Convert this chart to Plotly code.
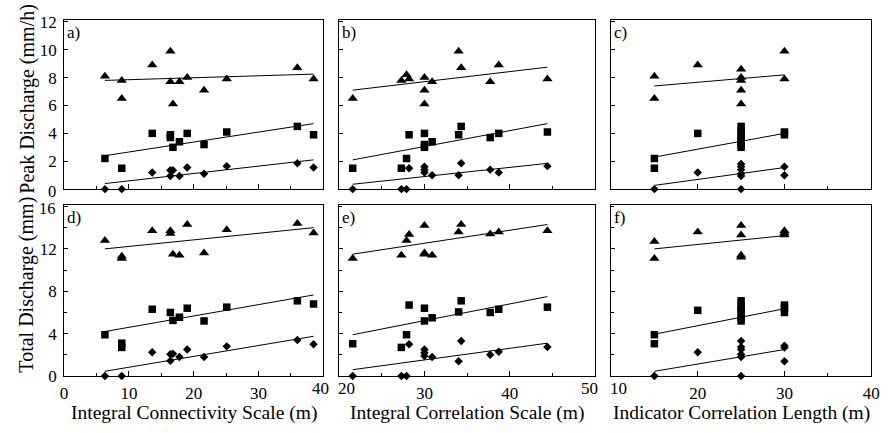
import plotly.graph_objects as go

# ---------------- data ----------------
# Panel a / d : Integral Connectivity Scale (m)
a_tri_x = [6.3, 8.9, 8.9, 13.6, 16.4, 16.4, 16.8, 17.8, 19.0, 21.6, 25.1, 36.0, 38.5]
a_tri_y = [8.1, 7.8, 6.5, 8.9, 9.9, 7.7, 6.1, 7.7, 8.0, 7.1, 7.9, 8.7, 7.9]
a_sq_x = [6.3, 8.9, 13.6, 16.4, 16.4, 16.8, 17.8, 19.0, 21.6, 25.1, 36.0, 38.5]
a_sq_y = [2.2, 1.5, 4.0, 3.9, 3.7, 3.0, 3.4, 4.0, 3.2, 4.1, 4.5, 3.9]
a_di_x = [6.3, 8.9, 13.6, 16.4, 16.4, 16.8, 17.8, 19.0, 21.6, 25.1, 36.0, 38.5]
a_di_y = [0.0, 0.0, 1.2, 1.35, 0.95, 1.35, 0.95, 1.55, 1.1, 1.65, 1.85, 1.55]

d_tri_x = [6.3, 8.9, 8.9, 13.6, 16.4, 16.4, 16.8, 17.8, 19.0, 21.6, 25.1, 36.0, 38.5]
d_tri_y = [12.8, 11.3, 11.1, 13.7, 13.7, 13.45, 11.5, 11.4, 14.3, 11.6, 13.8, 14.4, 13.5]
d_sq_x = [6.3, 8.9, 8.9, 13.6, 16.4, 16.8, 17.8, 19.0, 21.6, 25.1, 36.0, 38.5]
d_sq_y = [3.9, 3.1, 2.7, 6.3, 6.0, 5.25, 5.55, 6.4, 5.2, 6.5, 7.1, 6.8]
d_di_x = [6.3, 8.9, 13.6, 16.4, 16.4, 16.8, 17.8, 19.0, 21.6, 25.1, 36.0, 38.5]
d_di_y = [0.0, 0.0, 2.25, 2.05, 1.45, 2.1, 1.8, 2.5, 1.8, 2.8, 3.4, 3.0]

# Panel b / e : Integral Correlation Scale (m)
b_tri_x = [21.6, 27.3, 27.9, 28.2, 30.0, 30.0, 30.0, 30.9, 34.0, 34.3, 37.7, 38.7, 44.4]
b_tri_y = [6.5, 7.8, 8.2, 7.9, 8.0, 7.1, 6.1, 7.7, 9.9, 8.7, 7.7, 8.9, 7.9]
b_sq_x = [21.6, 27.3, 27.9, 28.2, 30.0, 30.0, 30.0, 30.9, 34.0, 34.3, 37.7, 38.7, 44.4]
b_sq_y = [1.5, 1.5, 2.2, 3.9, 4.0, 3.2, 3.0, 3.4, 3.9, 4.5, 3.7, 4.0, 4.1]
b_di_x = [21.6, 27.3, 27.9, 28.2, 30.0, 30.0, 30.0, 30.9, 34.0, 34.3, 37.7, 38.7, 44.4]
b_di_y = [0.0, 0.0, 0.0, 1.5, 1.6, 1.4, 1.2, 1.0, 1.0, 1.85, 1.4, 1.2, 1.65]

e_tri_x = [21.6, 27.3, 27.9, 28.2, 30.0, 30.0, 30.0, 30.9, 34.0, 34.3, 37.7, 38.7, 44.4]
e_tri_y = [11.1, 11.4, 12.8, 13.35, 14.2, 11.5, 11.6, 11.4, 13.6, 14.3, 13.4, 13.6, 13.7]
e_sq_x = [21.6, 27.3, 27.9, 28.2, 30.0, 30.0, 30.9, 34.0, 34.3, 37.7, 38.7, 44.4]
e_sq_y = [3.05, 2.7, 3.9, 6.7, 6.4, 5.2, 5.5, 6.05, 7.1, 6.0, 6.3, 6.5]
e_di_x = [21.6, 27.3, 27.9, 28.2, 30.0, 30.0, 30.0, 30.9, 34.0, 34.3, 37.7, 38.7, 44.4]
e_di_y = [0.0, 0.0, 0.0, 3.0, 2.5, 2.2, 1.9, 1.8, 1.4, 3.3, 2.0, 2.3, 2.75]

# Panel c / f : Indicator Correlation Length (m)
c_tri_x = [15, 15, 20, 25, 25, 25, 25, 25, 30, 30]
c_tri_y = [8.1, 6.5, 8.9, 8.6, 8.0, 7.8, 7.1, 6.1, 9.9, 7.9]
c_sq_x = [15, 15, 20, 25, 25, 25, 25, 25, 25, 25, 30, 30]
c_sq_y = [2.2, 1.5, 4.0, 4.5, 4.2, 3.9, 3.7, 3.4, 3.2, 3.0, 4.1, 3.9]
c_di_x = [15, 20, 25, 25, 25, 25, 25, 25, 30, 30]
c_di_y = [0.0, 1.2, 1.8, 1.6, 1.4, 1.1, 0.95, 0.0, 1.6, 1.0]

f_tri_x = [15, 15, 20, 25, 25, 25, 25, 30, 30, 30]
f_tri_y = [12.7, 11.1, 13.6, 14.2, 13.3, 11.4, 11.2, 13.7, 13.5, 13.3]
f_sq_x = [15, 15, 20, 25, 25, 25, 25, 25, 25, 30, 30, 30]
f_sq_y = [3.9, 3.05, 6.2, 7.1, 6.6, 6.3, 6.0, 5.5, 5.2, 6.7, 6.4, 6.0]
f_di_x = [15, 20, 25, 25, 25, 25, 25, 25, 30, 30, 30]
f_di_y = [0.0, 2.25, 3.3, 2.75, 2.5, 2.05, 1.8, 0.0, 2.85, 2.7, 1.4]

# Regression-line end values (at min and max x of each panel)
a_fit = {"tri": [7.8, 8.25], "sq": [2.4, 4.7], "di": [0.4, 2.1]}
b_fit = {"tri": [7.1, 8.75], "sq": [2.1, 4.7], "di": [0.35, 1.85]}
c_fit = {"tri": [7.4, 8.2], "sq": [2.3, 4.0], "di": [0.27, 1.55]}
d_fit = {"tri": [12.0, 14.0], "sq": [4.2, 7.65], "di": [0.45, 3.75]}
e_fit = {"tri": [11.5, 14.3], "sq": [3.9, 7.5], "di": [0.6, 3.1]}
f_fit = {"tri": [12.0, 13.25], "sq": [3.95, 6.35], "di": [0.45, 2.5]}

panel_labels = ["a)", "b)", "c)", "d)", "e)", "f)"]
x_titles = ["Integral Connectivity Scale (m)", "Integral Correlation Scale (m)",
            "Indicator Correlation Length (m)"]
y_titles = ["Peak Discharge (mm/h)", "Total Discharge (mm)"]
x_ranges = [[0, 40], [20, 50], [10, 40]]
x_ticks = [[0, 10, 20, 30, 40], [20, 30, 40, 50], [10, 20, 30, 40]]
y_top_ticks = [0, 2, 4, 6, 8, 10, 12]
y_bot_ticks = [0, 4, 8, 12, 16]

# ---------------- figure ----------------
W, H = 892, 433
FONT = "Liberation Serif"
TICK_SIZE = 17
YTICK_SIZE = 17
TITLE_SIZE = 19.5
YTITLE_SIZE = 20
xdom = [[61 / W, 324 / W], [340 / W, 600 / W], [616 / W, 880 / W]]
ydom_top = [1 - 189 / H, 1 - 13 / H]
ydom_bot = [1 - 384 / H, 1 - 206 / H]
# edge tick labels of the bottom row are nudged inwards (pixel shift) to avoid overlap
edge_shift = [{40: -3}, {20: 7, 50: -6}, {10: 7}]
# y tick labels at the gap between the two rows, nudged (pixel shift)
yedge_shift = [{0: -2}, {16: -2}]

panels = [
    (a_tri_x, a_tri_y, a_sq_x, a_sq_y, a_di_x, a_di_y, a_fit),
    (b_tri_x, b_tri_y, b_sq_x, b_sq_y, b_di_x, b_di_y, b_fit),
    (c_tri_x, c_tri_y, c_sq_x, c_sq_y, c_di_x, c_di_y, c_fit),
    (d_tri_x, d_tri_y, d_sq_x, d_sq_y, d_di_x, d_di_y, d_fit),
    (e_tri_x, e_tri_y, e_sq_x, e_sq_y, e_di_x, e_di_y, e_fit),
    (f_tri_x, f_tri_y, f_sq_x, f_sq_y, f_di_x, f_di_y, f_fit),
]

fig = go.Figure()
layout = dict(
    width=W, height=H, margin=dict(l=0, r=0, t=0, b=0),
    paper_bgcolor="white", plot_bgcolor="white", showlegend=False,
    font=dict(family=FONT, color="black", size=TICK_SIZE),
)
annotations = []

for i, (tx, ty, sx, sy, dx, dy, fit) in enumerate(panels):
    n = i + 1
    row, col = i // 3, i % 3
    xa = "x" if n == 1 else f"x{n}"
    ya = "y" if n == 1 else f"y{n}"
    allx = tx + sx + dx
    x0, x1 = min(allx), max(allx)
    for key in ["tri", "sq", "di"]:
        fig.add_trace(go.Scatter(x=[x0, x1], y=fit[key], mode="lines",
                                 line=dict(color="black", width=1),
                                 xaxis=xa, yaxis=ya, hoverinfo="skip"))
    for xs, ys, sym, sz in [(tx, ty, "triangle-up", 9), (sx, sy, "square", 7.5),
                            (dx, dy, "diamond", 6.5)]:
        fig.add_trace(go.Scatter(x=xs, y=ys, mode="markers", cliponaxis=False,
                                 marker=dict(symbol=sym, size=sz, color="black",
                                             line=dict(width=0)),
                                 xaxis=xa, yaxis=ya))
    bottom = row == 1
    xkey = "xaxis" if n == 1 else f"xaxis{n}"
    ykey = "yaxis" if n == 1 else f"yaxis{n}"
    ticktext = [("" if (bottom and v in edge_shift[col]) else str(v)) for v in x_ticks[col]]
    layout[xkey] = dict(
        domain=xdom[col], range=x_ranges[col], anchor=ya,
        showline=True, mirror=True, linecolor="black", linewidth=1,
        showgrid=False, zeroline=False, ticks="inside", ticklen=5,
        tickcolor="black", tickvals=x_ticks[col], ticktext=ticktext,
        showticklabels=bottom, ticklabelstandoff=2,
        tickfont=dict(family=FONT, size=TICK_SIZE),
        minor=dict(dtick=5, ticks="inside", ticklen=3, tickcolor="black"),
    )
    yt = y_bot_ticks if bottom else y_top_ticks
    yshift_map = yedge_shift[row]
    yticktext = [("" if v in yshift_map else str(v)) for v in yt]
    layout[ykey] = dict(
        domain=ydom_bot if bottom else ydom_top,
        range=[0, 16.1] if bottom else [0, 12.1], anchor=xa,
        showline=True, mirror=True, linecolor="black", linewidth=1,
        showgrid=False, zeroline=False, ticks="inside", ticklen=4,
        tickcolor="black", tickvals=yt, ticktext=yticktext,
        showticklabels=(col == 0), ticklabelstandoff=3,
        tickfont=dict(family=FONT, size=YTICK_SIZE),
        minor=dict(dtick=2, ticks="inside", ticklen=3, tickcolor="black"),
    )
    if col == 0:
        for v, sh in yshift_map.items():
            annotations.append(dict(
                text=str(v), xref="paper", yref=ya, x=55 / W, y=v, yshift=sh,
                xanchor="right", yanchor="middle", showarrow=False,
                font=dict(family=FONT, size=YTICK_SIZE - 0.5, color="black")))
    if bottom:
        for v, sh in edge_shift[col].items():
            annotations.append(dict(
                text=str(v), xref=xa, yref="paper", x=v, xshift=sh,
                y=1 - 396.5 / H, xanchor="center", yanchor="middle", showarrow=False,
                font=dict(family=FONT, size=TICK_SIZE, color="black")))
    annotations.append(dict(
        text=panel_labels[i], xref="paper", yref="paper",
        x=xdom[col][0] + 1 / W, y=(ydom_bot if bottom else ydom_top)[1] - 1 / H,
        xanchor="left", yanchor="top", showarrow=False,
        font=dict(family=FONT, size=17, color="black")))

for col in range(3):
    annotations.append(dict(
        text=x_titles[col], xref="paper", yref="paper",
        x=(xdom[col][0] + xdom[col][1]) / 2, y=1 - 422.5 / H,
        xanchor="center", yanchor="middle", showarrow=False,
        font=dict(family=FONT, size=TITLE_SIZE, color="black")))

y_title_centers = [95, 289]
for r in range(2):
    annotations.append(dict(
        text=y_titles[r], xref="paper", yref="paper",
        x=23 / W, y=1 - y_title_centers[r] / H, textangle=-90,
        xanchor="center", yanchor="middle", showarrow=False,
        font=dict(family=FONT, size=YTITLE_SIZE, color="black")))

layout["annotations"] = annotations
fig.update_layout(**layout)
fig.write_html("out.html")
